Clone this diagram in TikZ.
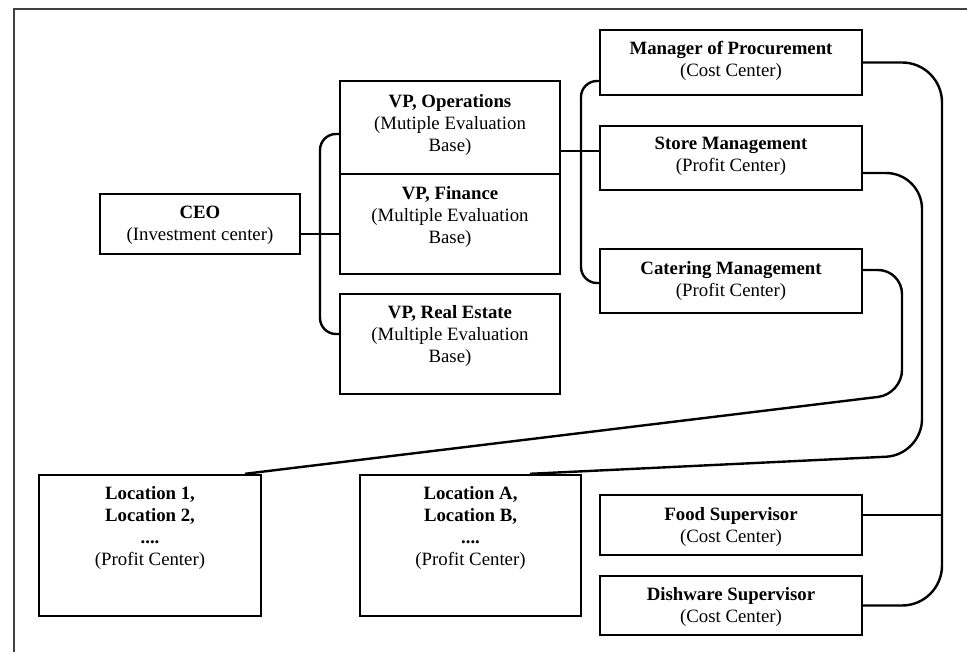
\documentclass[tikz,border=0pt]{standalone}
\usepackage{fontspec}
\setmainfont{Liberation Serif}
\definecolor{framec}{HTML}{404040}
\begin{document}
\begin{tikzpicture}[x=0.5pt,y=-0.5pt, line width=1.2pt,
  box/.style={draw, rectangle, inner sep=0pt},
  txt/.style={align=center, inner sep=0pt, font=\fontsize{9.4}{11}\selectfont}]
\useasboundingbox (0,0) rectangle (967,652);
% frame
\draw[framec, line width=1.3pt] (14,652) -- (14,9) -- (967,9);

% boxes
\node[box, minimum width=100pt, minimum height=30pt] (ceo) at (200,224) {};
\node[txt] (ceot) at (200,225) {\textbf{CEO}\\(Investment center)};

\node[box, minimum width=110pt, minimum height=46.5pt] (vpo) at (450,127.5) {};
\node[txt] (vpot) at (450,124.5) {\textbf{VP, Operations}\\(Mutiple Evaluation\\Base)};

\node[box, minimum width=110pt, minimum height=50pt] (vpf) at (450,224) {};
\node[txt] (vpft) at (450,216.5) {\textbf{VP, Finance}\\(Multiple Evaluation\\Base)};

\node[box, minimum width=110pt, minimum height=50pt] (vpr) at (450,344) {};
\node[txt] (vprt) at (450,336) {\textbf{VP, Real Estate}\\(Multiple Evaluation\\Base)};

\node[box, minimum width=131pt, minimum height=32.5pt] (proc) at (731,62.5) {};
\node[txt] (proct) at (731,61) {\textbf{Manager of Procurement}\\(Cost Center)};

\node[box, minimum width=131pt, minimum height=32pt] (store) at (731,158) {};
\node[txt] (storet) at (731,156) {\textbf{Store Management}\\(Profit Center)};

\node[box, minimum width=131pt, minimum height=32pt] (cater) at (731,281) {};
\node[txt] (catert) at (731,280.5) {\textbf{Catering Management}\\(Profit Center)};

\node[box, minimum width=131pt, minimum height=30pt] (food) at (731,525) {};
\node[txt] (foodt) at (731,526.5) {\textbf{Food Supervisor}\\(Cost Center)};

\node[box, minimum width=131pt, minimum height=29.5pt] (dish) at (731,605.5) {};
\node[txt] (disht) at (731,606.5) {\textbf{Dishware Supervisor}\\(Cost Center)};

\node[box, minimum width=111pt, minimum height=70.5pt] (loc1) at (150,545.5) {};
\node[txt] (loc1t) at (150,528) {\textbf{Location 1,}\\\textbf{Location 2,}\\\textbf{....}\\(Profit Center)};

\node[box, minimum width=110.5pt, minimum height=70.5pt] (locA) at (470.5,545.5) {};
\node[txt] (locAt) at (470.5,528) {\textbf{Location A,}\\\textbf{Location B,}\\\textbf{....}\\(Profit Center)};

% helper coordinates
\coordinate (lbr) at (320,0);
\coordinate (mid) at (580,151);
\coordinate (rbr) at (581,0);
\coordinate (v1) at (942,0);
\coordinate (v2) at (922,455);
\coordinate (v3) at (902,394);
\coordinate (e1) at (245,0);
\coordinate (eA) at (530,0);
\coordinate (ceoout) at ([yshift=-5pt]ceo.east);
\coordinate (vpoin) at ([yshift=-3.25pt]vpo.west);
\coordinate (vprin) at ([yshift=5pt]vpr.west);
\coordinate (procin) at ([yshift=-9.25pt]proc.west);
\coordinate (caterin) at ([yshift=-1pt]cater.west);
\coordinate (foodout) at ([yshift=5pt]food.east);
\coordinate (storeout) at ([yshift=-7.5pt]store.east);
\coordinate (caterout) at ([yshift=5.5pt]cater.east);

% CEO to VPs
\draw (ceoout) -- (ceoout -| vpf.west);
\draw[rounded corners=8pt] (vpoin) -| (lbr |- vprin) -- (vprin);

% Operations to managers
\draw (vpo.east |- mid) -- (store.west |- mid);
\draw[rounded corners=8pt] (procin) -| (rbr |- caterin) -- (caterin);

% Procurement to supervisors
\draw[rounded corners=20pt] (proc.east) -| (v1 |- dish.east) -- (dish.east);
\draw (foodout) -- (v1 |- foodout);

% Store to locations A
\draw[rounded corners=18pt] (storeout) -| (v2) -- (eA |- locA.north);
% Catering to locations 1
\draw[rounded corners=12pt] (caterout) -| (v3) -- (e1 |- loc1.north);
\end{tikzpicture}
\end{document}
